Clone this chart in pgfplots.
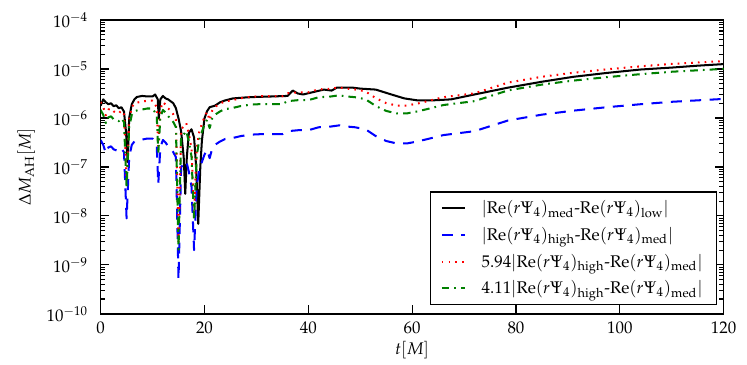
\documentclass[border=0pt]{standalone}
\usepackage[T1]{fontenc}
\usepackage{mathpazo}
\usepackage{pgfplots}
\usepackage{pgfplotstable}
\pgfplotsset{compat=1.18}
\definecolor{mplgreen}{rgb}{0,0.5,0}

% |Re(rPsi4)_high - Re(rPsi4)_med|
\pgfplotstableread{
t d
0.0 3.55e-7
0.5 2.82e-7
1.0 1.91e-7
1.5 2.51e-7
2.0 2.63e-7
2.5 2.29e-7
3.0 2.19e-7
3.5 2.09e-7
4.0 2.40e-7
4.5 2.00e-7
5.0 8.9e-9
5.5 1.58e-7
6.0 2.82e-7
6.5 3.31e-7
7.0 3.47e-7
8.0 3.63e-7
9.0 3.80e-7
10.0 3.80e-7
10.8 2.82e-7
11.1 4.47e-8
11.5 2.51e-7
12.0 3.55e-7
12.5 3.16e-7
13.0 2.63e-7
13.5 2.40e-7
14.0 2.00e-7
14.5 1.58e-7
15.0 5.0e-10
15.5 1.0e-7
16.0 1.12e-7
16.5 1.32e-7
17.0 7.9e-8
17.5 4.0e-8
18.0 2.0e-9
18.5 4.0e-8
19.0 8.9e-8
19.5 1.26e-7
20.0 1.78e-7
20.5 2.24e-7
21.0 1.51e-7
21.5 2.40e-7
22.0 2.82e-7
23.0 3.31e-7
24.0 3.72e-7
25.0 3.80e-7
27.0 4.27e-7
29.0 4.57e-7
31.0 4.68e-7
35.0 4.68e-7
36.0 5.37e-7
38.0 5.62e-7
40.0 5.62e-7
42.0 6.46e-7
44.0 6.61e-7
46.0 7.08e-7
47.0 6.76e-7
49.0 6.46e-7
51.0 5.89e-7
53.0 4.27e-7
55.0 3.39e-7
57.0 3.02e-7
59.0 3.02e-7
61.0 3.31e-7
63.0 3.72e-7
66.0 4.47e-7
72.0 5.37e-7
78.5 8.91e-7
85.0 1.17e-6
91.0 1.41e-6
97.5 1.66e-6
104.0 1.91e-6
110.0 2.14e-6
115.0 2.29e-6
120.0 2.45e-6
}\highmed

% |Re(rPsi4)_med - Re(rPsi4)_low|
\pgfplotstableread{
t d
0.0 1.78e-6
0.5 2.40e-6
1.0 2.09e-6
1.5 1.91e-6
2.0 2.00e-6
2.5 1.74e-6
3.0 1.82e-6
3.5 1.58e-6
4.0 1.66e-6
4.5 1.35e-6
4.9 5.0e-7
5.2 1.26e-7
5.5 1.0e-6
6.0 1.91e-6
6.5 2.40e-6
7.0 2.69e-6
8.0 2.82e-6
9.0 2.75e-6
10.0 2.75e-6
10.5 3.02e-6
11.0 2.40e-6
11.2 9.8e-7
11.5 2.40e-6
12.0 2.82e-6
12.5 2.51e-6
13.0 2.40e-6
13.5 2.19e-6
14.0 2.00e-6
14.5 1.58e-6
15.0 9.8e-7
15.5 5.37e-7
16.0 1.58e-7
16.3 2.82e-8
16.6 1.58e-7
17.0 5.0e-7
17.5 5.89e-7
18.0 3.98e-7
18.4 1.0e-7
18.8 6.9e-9
19.2 1.0e-7
19.5 3.39e-7
20.0 9.8e-7
20.5 1.38e-6
21.0 1.66e-6
22.0 1.78e-6
23.0 2.09e-6
24.0 2.29e-6
25.5 2.51e-6
28.0 2.63e-6
30.0 2.69e-6
33.0 2.75e-6
36.0 2.82e-6
37.0 3.63e-6
38.0 3.16e-6
39.0 3.02e-6
41.0 3.39e-6
43.0 3.80e-6
44.5 3.63e-6
45.5 4.17e-6
48.5 4.17e-6
50.0 3.98e-6
53.0 3.80e-6
56.0 3.02e-6
58.5 2.51e-6
61.0 2.29e-6
64.0 2.29e-6
67.5 2.40e-6
72.0 3.02e-6
78.5 4.17e-6
85.0 5.50e-6
91.0 6.92e-6
97.5 8.32e-6
104.0 9.77e-6
110.0 1.07e-5
115.0 1.17e-5
120.0 1.26e-5
}\medlow

\begin{document}
\begin{tikzpicture}
\begin{axis}[
    scale only axis,
    width=369pt, height=174pt,
    xmin=0, xmax=120,
    ymin=1e-10, ymax=1e-4,
    ymode=log,
    xtick={0,20,...,120},
    xlabel={$t[M]$},
    ylabel={$\Delta M_{\rm AH}[M]$},
    xlabel style={yshift=2pt},
    yticklabel style={xshift=-4pt},
    xticklabel style={yshift=-1pt},
    axis line style={line width=0.9pt},
    major tick length=5pt,
    minor tick length=2.5pt,
    every tick/.style={black, line width=0.7pt},
    legend cell align=left,
    legend image code/.code={\draw[#1] (0pt,0pt) -- (14pt,0pt);},
    legend style={at={(1,0)}, anchor=south east, xshift=-4pt, yshift=5pt,
        draw=black, line width=0.8pt, row sep=2.5pt, column sep=7pt,
        inner ysep=3pt, inner xsep=6pt},
    every axis plot/.append style={line join=round},
]
\addplot[black, line width=1.2pt] table[x=t, y=d] {\medlow};
\addlegendentry{$|{\rm Re}(r\Psi_4)_{\rm med}$-${\rm Re}(r\Psi_4)_{\rm low}|$}
\addplot[blue, line width=1.2pt, dash pattern=on 6.5pt off 5pt] table[x=t, y=d] {\highmed};
\addlegendentry{$|{\rm Re}(r\Psi_4)_{\rm high}$-${\rm Re}(r\Psi_4)_{\rm med}|$}
\addplot[red, line width=1.2pt, dash pattern=on 1pt off 3pt] table[x=t, y expr=\thisrow{d}*5.94] {\highmed};
\addlegendentry{$5.94|{\rm Re}(r\Psi_4)_{\rm high}$-${\rm Re}(r\Psi_4)_{\rm med}|$}
\addplot[mplgreen, line width=1.2pt, dash pattern=on 4.5pt off 3pt on 1pt off 3pt] table[x=t, y expr=\thisrow{d}*4.11] {\highmed};
\addlegendentry{$4.11|{\rm Re}(r\Psi_4)_{\rm high}$-${\rm Re}(r\Psi_4)_{\rm med}|$}
\end{axis}
\path ([xshift=-7pt,yshift=4pt]current axis.outer north west);
\path ([xshift=3pt]current axis.outer south east);
\end{tikzpicture}
\end{document}
